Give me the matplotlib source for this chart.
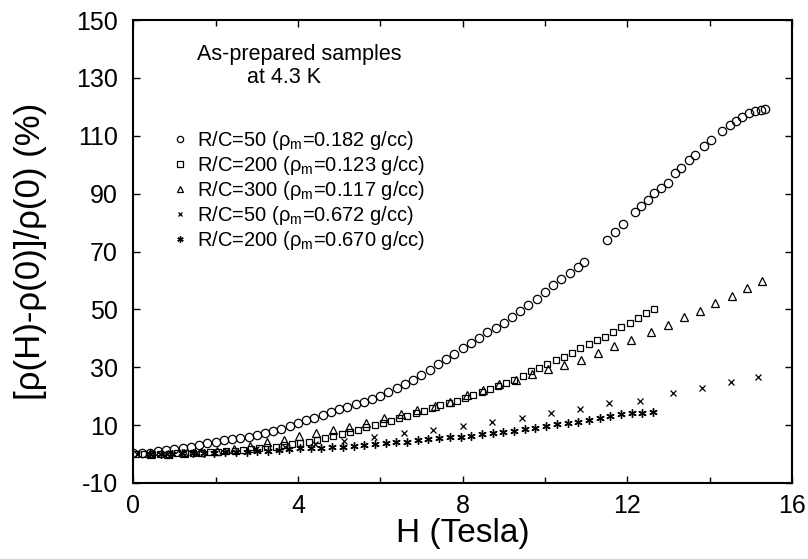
import numpy as np
import matplotlib.pyplot as plt
from matplotlib.ticker import MultipleLocator

plt.rcParams['font.family'] = ['Liberation Sans', 'DejaVu Sans']
plt.rcParams['mathtext.fontset'] = 'custom'
plt.rcParams['mathtext.rm'] = 'Liberation Sans'
plt.rcParams['axes.unicode_minus'] = False

# R/C=50, rho_m=0.182 g/cc (circles)
h_c50 = [0.0, 0.2, 0.4, 0.6, 0.8, 1.0, 1.2, 1.4, 1.6, 1.8, 2.0, 2.2, 2.4, 2.6, 2.8,
         3.0, 3.2, 3.4, 3.6, 3.8, 4.0, 4.2, 4.4, 4.6, 4.8, 5.0, 5.2, 5.4, 5.6, 5.8,
         6.0, 6.2, 6.4, 6.6, 6.8, 7.0, 7.2, 7.4, 7.6, 7.8, 8.0, 8.2, 8.4, 8.6, 8.8,
         9.0, 9.2, 9.4, 9.6, 9.8, 10.0, 10.2, 10.4, 10.6, 10.8, 10.95,
         11.5, 11.7, 11.9, 12.2, 12.34, 12.5, 12.66, 12.83, 13.0, 13.16, 13.3, 13.5,
         13.65, 13.86, 14.03, 14.3, 14.5, 14.64, 14.8, 14.95, 15.1, 15.24, 15.36]
mr_c50 = [0.3, 0.3, 0.5, 0.9, 1.3, 1.7, 2.2, 2.6, 3.2, 3.8, 4.2, 4.7, 5.2, 5.6, 6.0,
          6.7, 7.4, 8.1, 8.8, 9.6, 10.6, 11.6, 12.6, 13.6, 14.6, 15.5, 16.4, 17.2, 18.1, 19.1,
          20.2, 21.5, 22.8, 24.1, 25.6, 27.4, 29.2, 31.0, 32.9, 34.6, 36.5, 38.4, 40.2, 42.3, 43.6,
          45.4, 47.3, 49.4, 51.5, 53.6, 56.0, 58.3, 60.6, 62.7, 64.8, 66.5,
          74.0, 76.6, 79.4, 83.6, 85.7, 87.7, 90.2, 92.0, 93.7, 97.1, 98.9, 101.7,
          103.4, 106.5, 108.6, 111.7, 113.8, 115.2, 116.6, 118.0, 118.7, 119.0, 119.4]

# R/C=200, rho_m=0.123 g/cc (squares)
h_c200 = [0.06, 0.26, 0.46, 0.66, 0.86, 1.06, 1.26, 1.46, 1.66, 1.86, 2.06, 2.26, 2.46,
          2.66, 2.86, 3.06, 3.26, 3.46, 3.66, 3.86, 4.06, 4.26, 4.46, 4.66, 4.86, 5.06,
          5.26, 5.46, 5.66, 5.86, 6.06, 6.26, 6.46, 6.66, 6.86, 7.06, 7.26, 7.46, 7.66,
          7.86, 8.06, 8.26, 8.46, 8.66, 8.86, 9.06, 9.26, 9.46, 9.66, 9.86, 10.06, 10.26,
          10.46, 10.66, 10.86, 11.06, 11.26, 11.46, 11.66, 11.86, 12.06, 12.26, 12.46, 12.66]
mr_c200 = [0.0, 0.0, 0.0, 0.1, 0.1, 0.2, 0.3, 0.4, 0.5, 0.6, 0.7, 0.9, 1.2,
           1.5, 1.8, 2.0, 2.3, 2.6, 3.0, 3.4, 3.8, 4.2, 4.7, 5.4, 6.1, 6.8,
           7.5, 8.4, 9.3, 10.0, 10.7, 11.5, 12.4, 13.3, 14.2, 15.0, 15.9, 16.8, 17.6,
           18.5, 19.4, 20.4, 21.5, 22.5, 23.6, 24.6, 25.6, 27.0, 28.6, 29.9, 31.2, 32.5,
           33.7, 35.1, 36.6, 38.1, 39.3, 40.5, 42.1, 43.9, 45.4, 47.0, 48.7, 50.2]

# R/C=300, rho_m=0.117 g/cc (triangles)
h_c300 = [0.44, 0.84, 1.24, 1.64, 2.04, 2.44, 2.84, 3.24, 3.65, 4.03, 4.44, 4.86, 5.24,
          5.65, 6.09, 6.5, 6.9, 7.34, 7.7, 8.1, 8.5, 8.89, 9.3, 9.69, 10.07, 10.46,
          10.87, 11.28, 11.67, 12.1, 12.58, 13.0, 13.38, 13.77, 14.13, 14.54, 14.9, 15.27]
mr_c300 = [0.0, 0.1, 0.3, 0.6, 1.0, 1.6, 2.8, 4.0, 5.0, 6.3, 7.4, 8.4, 9.5,
           10.9, 12.3, 13.7, 15.2, 16.5, 18.0, 20.3, 22.2, 24.1, 25.5, 27.6, 29.3, 30.7,
           32.4, 34.9, 37.3, 39.4, 42.2, 44.6, 47.4, 49.5, 52.3, 54.7, 57.5, 59.9]

# R/C=50, rho_m=0.672 g/cc (crosses)
h_d50 = [0.09, 0.81, 1.53, 2.25, 2.97, 3.69, 4.41, 5.13, 5.85, 6.57, 7.29, 8.02,
         8.72, 9.44, 10.14, 10.85, 11.55, 12.32, 13.12, 13.82, 14.52, 15.17]
mr_d50 = [0.0, 0.1, 0.4, 0.9, 1.6, 2.4, 3.4, 4.6, 6.0, 7.4, 8.4, 9.8,
          11.2, 12.6, 14.3, 15.4, 17.5, 18.5, 21.0, 22.7, 24.8, 26.5]

# R/C=200, rho_m=0.670 g/cc (asterisks)
h_d200 = [0.41, 0.67, 0.93, 1.19, 1.45, 1.71, 1.97, 2.23, 2.49, 2.75, 3.01, 3.27,
          3.53, 3.79, 4.05, 4.31, 4.57, 4.83, 5.09, 5.35, 5.61, 5.87, 6.13, 6.39,
          6.65, 6.91, 7.17, 7.43, 7.69, 7.95, 8.21, 8.47, 8.73, 8.99, 9.25, 9.51,
          9.77, 10.03, 10.29, 10.55, 10.81, 11.07, 11.33, 11.59, 11.85, 12.11, 12.37, 12.63]
mr_d200 = [0.0, 0.0, 0.1, 0.2, 0.3, 0.4, 0.5, 0.6, 0.7, 0.8, 1.0, 1.2,
           1.5, 1.6, 2.0, 2.0, 2.1, 2.3, 2.5, 2.8, 3.1, 3.4, 3.7, 4.0,
           4.3, 4.7, 5.1, 5.5, 5.8, 6.0, 6.3, 7.0, 7.4, 7.7, 8.1, 8.8,
           9.1, 9.8, 10.5, 10.9, 11.2, 11.9, 12.3, 13.0, 14.0, 14.3, 14.3, 14.7]

labels = [r'R/C=50 (ρ$_{\rm m}$=0.182 g/cc)',
          r'R/C=200 (ρ$_{\rm m}$=0.123 g/cc)',
          r'R/C=300 (ρ$_{\rm m}$=0.117 g/cc)',
          r'R/C=50 (ρ$_{\rm m}$=0.672 g/cc)',
          r'R/C=200 (ρ$_{\rm m}$=0.670 g/cc)']

fig = plt.figure(figsize=(8.08, 5.59), dpi=100)
ax = fig.add_axes([0.165, 0.136, 0.815, 0.828])

ax.plot(h_c50, mr_c50, 'o', mfc='none', mec='k', ms=6, mew=0.9, label=labels[0])
ax.plot(h_c200, mr_c200, 's', mfc='none', mec='k', ms=5, mew=0.9, label=labels[1])
ax.plot(h_c300, mr_c300, '^', mfc='none', mec='k', ms=5.5, mew=0.9, label=labels[2])
ax.plot(h_d50, mr_d50, 'x', color='k', ms=4, mew=0.9, label=labels[3])
ax.plot(h_d200, mr_d200, marker=(6, 2, 0), ls='none', color='k', ms=6, mew=1.0,
        label=labels[4])

ax.set_xlim(0, 16)
ax.set_ylim(-10, 150)
ax.xaxis.set_major_locator(MultipleLocator(4))
ax.xaxis.set_minor_locator(MultipleLocator(2))
ax.set_yticks(np.arange(-10, 151, 20))
ax.tick_params(which='both', direction='in', top=True, right=True, labelsize=18)
ax.tick_params(axis='x', pad=8)
ax.tick_params(axis='y', pad=11)
ax.tick_params(which='major', length=5, width=1)
ax.tick_params(which='minor', length=4, width=1)
for s in ax.spines.values():
    s.set_linewidth(1.5)

ax.set_xlabel('H (Tesla)', fontsize=24, labelpad=0)
ax.set_ylabel('[ρ(H)-ρ(0)]/ρ(0) (%)', fontsize=25, labelpad=21)

ax.text(1.55, 136.1, 'As-prepared samples', fontsize=15.5, va='baseline', ha='left')
ax.text(2.75, 128.4, 'at 4.3 K', fontsize=15.5, va='baseline', ha='left')

leg = ax.legend(loc='upper left', bbox_to_anchor=(0.05, 0.782), frameon=False,
                fontsize=14.5, handlelength=0.6, handletextpad=0.55, labelspacing=0.1,
                markerscale=0.75, borderaxespad=0)

fig.savefig('out.png', dpi=100)
